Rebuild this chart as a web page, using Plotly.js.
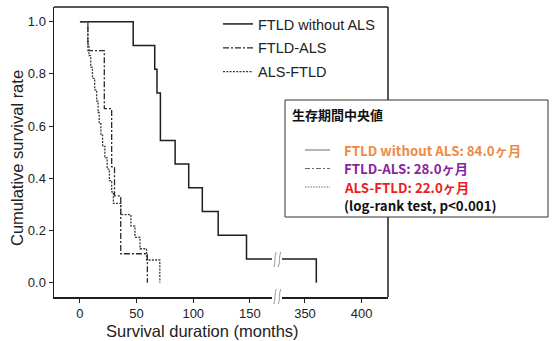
<!DOCTYPE html>
<html>
<head>
<meta charset="utf-8">
<script src="https://cdn.plot.ly/plotly-3.0.1.min.js"></script>
<style>html,body{margin:0;padding:0;background:#fff;}#chart{width:556px;height:341px;}</style>
</head>
<body>
<div id="chart"></div>
<script>
// ---- data ----
const seriesNames = ["FTLD without ALS", "FTLD-ALS", "ALS-FTLD"];
const timeFTLD = [0, 47, 66, 68, 71, 84, 96, 108, 122, 147, 360];
const survFTLD = [1.0, 0.909, 0.818, 0.727, 0.545, 0.455, 0.364, 0.273, 0.182, 0.091, 0.0];
const timeFTLDALS = [0, 7, 21.5, 28, 30.5, 36, 59.5];
const survFTLDALS = [1.0, 0.889, 0.667, 0.444, 0.333, 0.111, 0.0];
const timeALSFTLD = [0, 7, 8, 9.5, 11, 13, 14.7, 16, 17, 18.5, 20, 22, 24, 26, 28, 29.5, 36, 45, 48.5, 53, 58.8, 70.5];
const survALSFTLD = [1.0, 0.913, 0.870, 0.826, 0.783, 0.739, 0.696, 0.652, 0.609, 0.565, 0.522, 0.478, 0.435, 0.391, 0.348, 0.304, 0.261, 0.217, 0.174, 0.130, 0.087, 0.0];
const xTicksLeft = [0, 50, 100, 150];
const xTicksRight = [350, 400];
const yTicks = [0, 0.2, 0.4, 0.6, 0.8, 1.0];
const yTickText = ["0.0", "0.2", "0.4", "0.6", "0.8", "1.0"];
const boxTitle = "生存期間中央値";
const medianLabels = ["FTLD without ALS: 84.0ヶ月", "FTLD-ALS: 28.0ヶ月", "ALS-FTLD: 22.0ヶ月"];
const testLabel = "(log-rank test, p&lt;0.001)";

// ---- layout geometry (pixels) ----
const W = 556, H = 341, ML = 54, MR = 168, MT = 7, MB = 44;
const PW = W - ML - MR, PH = H - MT - MB;
const px = x => (x - ML) / PW;
const py = y => (H - MB - y) / PH;

const styles = [
  {color: "#1e1e1e", width: 1.5, dash: "solid"},
  {color: "#2a2a2a", width: 1.3, dash: "6px,2px,2px,2px"},
  {color: "#3a3a3a", width: 1.3, dash: "2px,1.3px"}
];
const FONT = "Liberation Sans, Arial, sans-serif";

const traces = [
  {x: timeFTLD, y: survFTLD, name: seriesNames[0], type: "scatter", mode: "lines", legendgroup: "a",
   line: Object.assign({shape: "hv"}, styles[0]), xaxis: "x", yaxis: "y"},
  {x: timeFTLDALS, y: survFTLDALS, name: seriesNames[1], type: "scatter", mode: "lines", legendgroup: "b",
   line: Object.assign({shape: "hv"}, styles[1]), xaxis: "x", yaxis: "y"},
  {x: timeALSFTLD, y: survALSFTLD, name: seriesNames[2], type: "scatter", mode: "lines", legendgroup: "c",
   line: Object.assign({shape: "hv"}, styles[2]), xaxis: "x", yaxis: "y"},
  {x: timeFTLD, y: survFTLD, name: seriesNames[0], type: "scatter", mode: "lines", legendgroup: "a",
   line: Object.assign({shape: "hv"}, styles[0]), xaxis: "x2", yaxis: "y", showlegend: false}
];

const axisCommon = {
  showline: true, linecolor: "#1e1e1e", linewidth: 1.5, ticks: "outside", ticklen: 4,
  tickcolor: "#1e1e1e", tickwidth: 1, showgrid: false, zeroline: false, fixedrange: true,
  tickfont: {family: FONT, size: 13, color: "#222"}
};

// break marks "//"
function wave(x0, yTop, yBot) {
  const a = [px(x0 + 2.2), py(yTop)], b = [px(x0 - 0.2), py(yBot)];
  const c1 = [px(x0 + 0.2), py(yTop + (yBot - yTop) * 0.35)];
  const c2 = [px(x0 + 1.8), py(yTop + (yBot - yTop) * 0.65)];
  return `M ${a[0]},${a[1]} C ${c1[0]},${c1[1]} ${c2[0]},${c2[1]} ${b[0]},${b[1]}`;
}
const breakShapes = [];
[[252, 267], [289, 304]].forEach(([t, b]) => {
  [274, 278.5].forEach(x0 => breakShapes.push({
    type: "path", xref: "paper", yref: "paper", path: wave(x0, t, b),
    line: {color: "#9a9a9a", width: 1}
  }));
});

const rowY = [150, 168.5, 187];
const rowColors = ["#ee8a44", "#8a1fa0", "#ee1c1c"];
const shapes = [
  {type: "line", xref: "paper", yref: "paper", x0: 0, x1: 1, y0: 1, y1: 1, line: {color: "#1e1e1e", width: 1.5}},
  {type: "line", xref: "paper", yref: "paper", x0: 1, x1: 1, y0: 0, y1: 1, line: {color: "#1e1e1e", width: 1.5}},
  {type: "rect", xref: "paper", yref: "paper", x0: px(285), x1: px(548), y0: py(217), y1: py(100),
   fillcolor: "#ffffff", line: {color: "#333", width: 1}}
].concat(rowY.map((y, i) => ({
  type: "line", xref: "paper", yref: "paper", x0: px(305), x1: px(330), y0: py(y), y1: py(y),
  line: {color: "#6a6a6a", width: 1, dash: i === 0 ? "solid" : (i === 1 ? "5px,2px,2px,2px" : "1.5px,1.2px")}
}))).concat(breakShapes);

const CJK = "Noto Sans CJK JP, sans-serif";
const annotations = [
  {text: "Survival duration (months)", xref: "paper", yref: "paper", x: px(202), y: py(330.5),
   xanchor: "center", yanchor: "middle", showarrow: false, font: {family: FONT, size: 16.5, color: "#222"}},
  {text: "Cumulative survival rate", xref: "paper", yref: "paper", x: px(17), y: py(158),
   xanchor: "center", yanchor: "middle", textangle: -90, showarrow: false, font: {family: FONT, size: 16.5, color: "#222"}},
  {text: "<b>" + boxTitle + "</b>", xref: "paper", yref: "paper", x: px(290), y: py(115),
   xanchor: "left", yanchor: "middle", showarrow: false, font: {family: CJK, size: 13, color: "#111"}}
].concat(medianLabels.map((t, i) => ({
  text: "<b>" + t + "</b>", xref: "paper", yref: "paper", x: px(342), y: py(rowY[i]),
  xanchor: "left", yanchor: "middle", showarrow: false, font: {family: CJK, size: 13.3, color: rowColors[i]}
}))).concat([{
  text: "<b>" + testLabel + "</b>", xref: "paper", yref: "paper", x: px(342), y: py(205),
  xanchor: "left", yanchor: "middle", showarrow: false, font: {family: CJK, size: 13.3, color: "#111"}
}]);

const layout = {
  width: W, height: H, margin: {l: ML, r: MR, t: MT, b: MB, pad: 0},
  paper_bgcolor: "#fff", plot_bgcolor: "#fff",
  showlegend: true,
  legend: {x: px(218), y: py(8), xanchor: "left", yanchor: "top", bgcolor: "rgba(0,0,0,0)",
           font: {family: FONT, size: 14.5, color: "#222"}, tracegroupgap: 2},
  xaxis: Object.assign({}, axisCommon, {domain: [0, px(272)], range: [-22.9, 169.5], tickvals: xTicksLeft, anchor: "y"}),
  xaxis2: Object.assign({}, axisCommon, {domain: [px(282), 1], range: [329.7, 423.3], tickvals: xTicksRight, anchor: "y"}),
  yaxis: Object.assign({}, axisCommon, {domain: [0, 1], range: [-0.0548, 1.0563], tickvals: yTicks, ticktext: yTickText, anchor: "x"}),
  shapes: shapes,
  annotations: annotations
};

Plotly.newPlot("chart", traces, layout, {staticPlot: true, displayModeBar: false});
</script>
</body>
</html>
